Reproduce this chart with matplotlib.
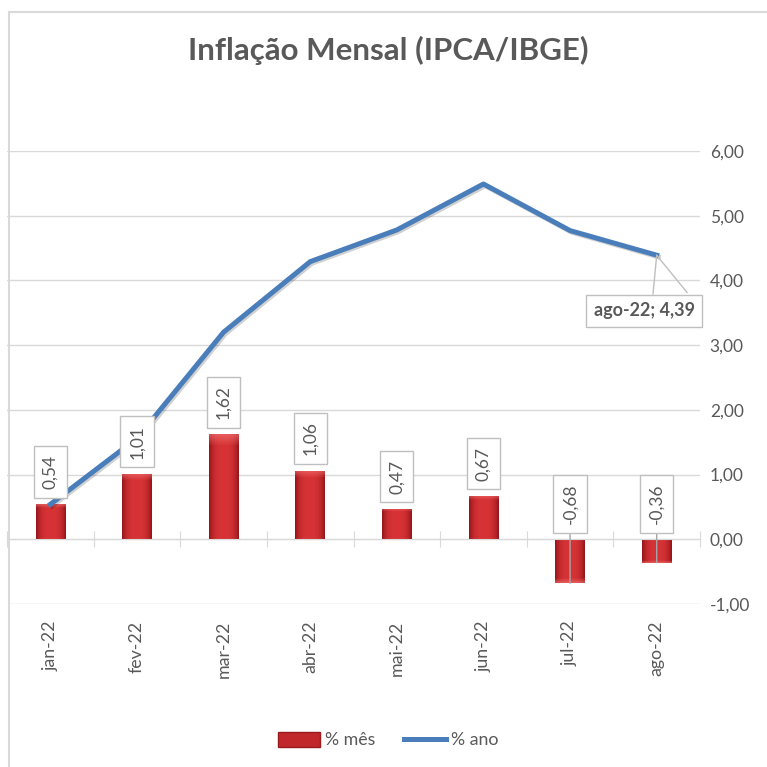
import numpy as np
import matplotlib.pyplot as plt
import matplotlib.patheffects as pe
from matplotlib.patches import Patch
from matplotlib.lines import Line2D
from matplotlib.transforms import offset_copy

plt.rcParams['font.family'] = ['Lato', 'DejaVu Sans']

meses = ['jan-22', 'fev-22', 'mar-22', 'abr-22', 'mai-22', 'jun-22', 'jul-22', 'ago-22']
pct_mes = [0.54, 1.01, 1.62, 1.06, 0.47, 0.67, -0.68, -0.36]
pct_ano = [0.54, 1.56, 3.20, 4.29, 4.78, 5.49, 4.77, 4.39]
yticks = [-1, 0, 1, 2, 3, 4, 5, 6]

TXT = '#595959'
GRID = '#D9D9D9'
BLUE = '#4A7EBB'

fig = plt.figure(figsize=(7.67, 7.67), dpi=100)
ax = fig.add_axes([7 / 767, 163 / 767, 693 / 767, 453 / 767])

x = np.arange(len(meses))

# barras com degradê (tipo bisel do excel)
bars = ax.bar(x, pct_mes, width=0.34, color='#C0282C', zorder=2)
prof = np.abs(np.linspace(-1, 1, 60))
cores = np.zeros((40, 60, 3))
base = np.array([0.84, 0.20, 0.21])
escuro = np.array([0.58, 0.08, 0.10])
for r in range(40):
    for c in range(60):
        t = prof[c] ** 3
        cor = base * (1 - t) + escuro * t
        if r < 4:
            cor = cor + (np.array([0.95, 0.45, 0.45]) - cor) * 0.6 * (1 - r / 4)
        cores[r, c] = cor
for b in bars:
    bb = b.get_bbox()
    im = ax.imshow(cores, extent=[bb.x0, bb.x1, bb.y0, bb.y1],
                   origin='upper', aspect='auto', zorder=2.1, interpolation='bilinear')
    im.set_clip_path(b)

ax.plot(x, pct_ano, color=BLUE, lw=3.6, zorder=3, solid_joinstyle='round',
        path_effects=[pe.SimpleLineShadow(offset=(1.2, -1.2), alpha=0.18), pe.Normal()])

# rótulos das barras
tr = offset_copy(ax.transData, fig=fig, x=0, y=11, units='points')
for i, v in enumerate(pct_mes):
    lbl = f'{v:.2f}'.replace('.', ',')
    box = dict(boxstyle='square,pad=0.5', fc='white', ec='#BFBFBF', lw=1)
    if v >= 0:
        ax.annotate(lbl, xy=(i, v), xytext=(i, v), textcoords=tr, rotation=90,
                    ha='center', va='bottom', fontsize=12.5, color=TXT, bbox=box, zorder=5)
    else:
        ax.annotate(lbl, xy=(i, v), xytext=(i, 0), textcoords=tr, rotation=90,
                    ha='center', va='bottom', fontsize=12.5, color=TXT, bbox=box, zorder=5,
                    arrowprops=dict(arrowstyle='-', color='#A6A6A6', lw=1, shrinkA=0, shrinkB=0,
                                    relpos=(0.5, 0)))

# destaque do último ponto
ult = len(pct_ano) - 1
ax.annotate('', xy=(ult, pct_ano[ult]), xytext=(22, -27), textcoords='offset points',
            arrowprops=dict(arrowstyle='-', color='#BFBFBF', lw=1, shrinkA=0, shrinkB=0), zorder=4)
ax.annotate(f'{meses[ult]}; {pct_ano[ult]:.2f}'.replace('.', ','), xy=(ult, pct_ano[ult]),
            xytext=(-9, -40), textcoords='offset points', ha='center', va='center',
            fontsize=13, fontweight='bold', color=TXT,
            bbox=dict(boxstyle='square,pad=0.42', fc='white', ec='#BFBFBF', lw=1),
            arrowprops=dict(arrowstyle='-', color='#BFBFBF', lw=1, shrinkA=0, shrinkB=0,
                            relpos=(0.58, 1)), zorder=4)

ax.set_xlim(-0.5, len(meses) - 0.5)
ax.set_ylim(-1, 6)
ax.set_yticks(yticks)
ax.set_yticklabels([f'{t:.2f}'.replace('.', ',') for t in yticks])
ax.yaxis.tick_right()
ax.tick_params(axis='y', length=0, pad=7, labelsize=12.5, labelcolor=TXT)
ax.grid(axis='y', color=GRID, lw=1, zorder=0)

for s in ['top', 'left', 'right']:
    ax.spines[s].set_visible(False)
ax.spines['bottom'].set_position(('data', 0))
ax.spines['bottom'].set_color(GRID)
ax.set_xticks(np.arange(-0.5, len(meses), 1))
ax.set_xticklabels([])
ax.tick_params(axis='x', direction='inout', length=11, color=GRID)

sec = ax.secondary_xaxis('bottom')
sec.set_xticks(x, meses)
sec.spines['bottom'].set_visible(False)
sec.tick_params(axis='x', length=0, pad=12, labelrotation=90, labelsize=12.8, labelcolor=TXT)

fig.text(388 / 767, 1 - 50 / 767, 'Inflação Mensal (IPCA/IBGE)', ha='center', va='center',
         fontsize=22.5, fontweight='bold', color=TXT)

handles = [Patch(facecolor='#C0282C', edgecolor='#9B1B1E'), Line2D([], [], color=BLUE, lw=3.6)]
fig.legend(handles, ['% mês', '% ano'], loc='center', bbox_to_anchor=(388 / 767, 1 - 740 / 767),
           ncol=2, frameon=False, fontsize=12.8, labelcolor=TXT, handlelength=2.4,
           handletextpad=0.25, columnspacing=1.6, handleheight=0.9)

# moldura do gráfico (cortada na imagem)
fig.add_artist(Line2D([8.5 / 767, 1], [1 - 11.5 / 767, 1 - 11.5 / 767], color='#D9D9D9', lw=1.5))
fig.add_artist(Line2D([8.5 / 767, 8.5 / 767], [0, 1 - 11.5 / 767], color='#D9D9D9', lw=1.5))

fig.savefig('out.png', dpi=100)
